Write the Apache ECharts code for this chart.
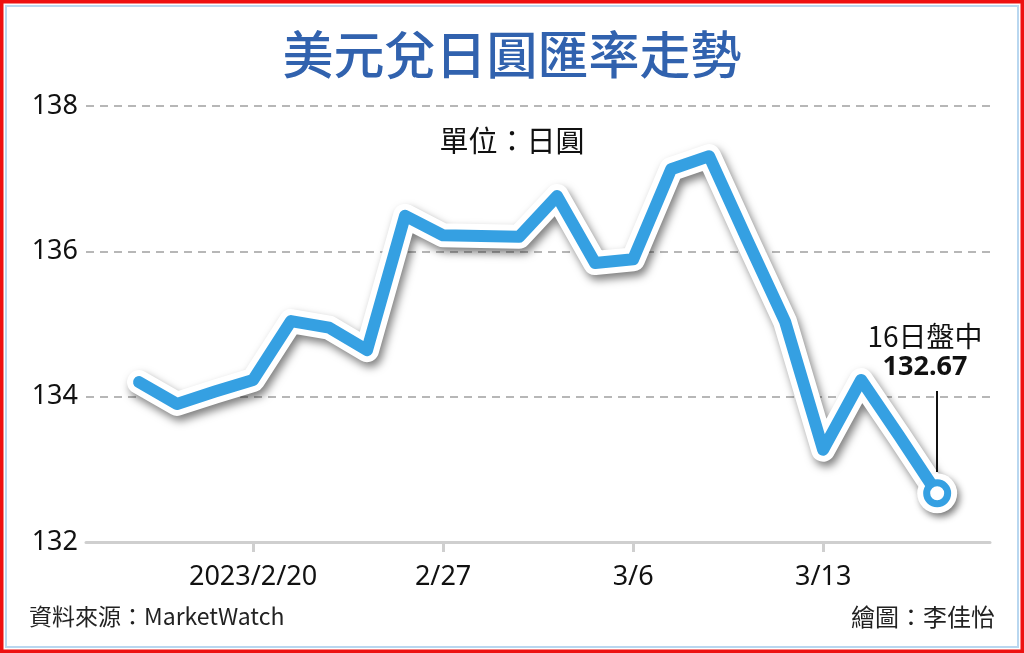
<!DOCTYPE html>
<html>
<head>
<meta charset="utf-8">
<style>
html,body{margin:0;padding:0;background:#fff;}
#chart{width:1024px;height:653px;}
</style>
<script src="https://cdn.jsdelivr.net/npm/echarts@6/dist/echarts.min.js"></script>
</head>
<body>
<div id="chart"></div>
<script>
// trading days (category labels)
const dates = ['2/15','2/16','2/17','2/20','2/21','2/22','2/23','2/24','2/27','2/28','3/1','3/2','3/3','3/6','3/7','3/8','3/9','3/10','3/13','3/14','3/15','3/16'];
// USD/JPY rate
const rates = [134.20,133.90,134.07,134.23,135.04,134.95,134.64,136.49,136.22,136.21,136.20,136.76,135.84,135.89,137.13,137.31,136.16,135.03,133.27,134.23,133.46,132.67];
// x tick labels shown
const tickDates = ['2/20','2/27','3/6','3/13'];
const tickText = {'2/20':'2023/2/20','2/27':'2/27','3/6':'3/6','3/13':'3/13'};
const yTicks = [132,134,136,138];

const BLUE = '#35a0e2';
const lastIdx = rates.length - 1;
const pts = rates.map((v,i)=>[i,v]);
const tickIdx = tickDates.map(d=>dates.indexOf(d));

const whiteData = pts.map((p,i)=> i===lastIdx ? {value:p, symbol:'circle', symbolSize:40, itemStyle:{color:'#fff', shadowColor:'rgba(0,0,0,0.45)', shadowBlur:7, shadowOffsetX:3, shadowOffsetY:4}} : {value:p});
const blueData = pts.map((p,i)=> i===lastIdx ? {value:p, symbol:'circle', symbolSize:21, itemStyle:{color:'#fff', borderColor:BLUE, borderWidth:7}} : {value:p});

const chart = echarts.init(document.getElementById('chart'));
const font = '"Noto Sans", "Noto Sans CJK TC", sans-serif';
chart.setOption({
  animation:false,
  backgroundColor:'#fff',
  title:{
    text:'美元兌日圓匯率走勢',
    left:'center', top:24,
    textStyle:{fontFamily:'"Noto Sans CJK TC", sans-serif', fontSize:51, fontWeight:500, color:'#3162ae'}
  },
  grid:{left:86, right:34, top:106, bottom:111, containLabel:false},
  xAxis:{
    type:'value',
    min:-1.395, max:22.39,
    axisLine:{show:true, lineStyle:{color:'#cfcfcf', width:3}},
    axisTick:{show:true, customValues:tickIdx, length:10, lineStyle:{color:'#cfcfcf', width:3}},
    axisLabel:{show:true, customValues:tickIdx, margin:22, fontFamily:font, fontSize:27, color:'#111',
      formatter:(v)=>tickText[dates[Math.round(v)]] || ''},
    splitLine:{show:false}
  },
  yAxis:{
    type:'value', min:132, max:138, interval:2,
    axisLine:{show:false}, axisTick:{show:false},
    axisLabel:{margin:8, fontFamily:font, fontSize:27, color:'#111'},
    splitLine:{show:true, lineStyle:{color:'#a0a0a0', type:[8,6], width:1.5}}
  },
  series:[
    {
      type:'line', data:whiteData, symbol:'none', z:3,
      lineStyle:{color:'#fff', width:24, join:'round', cap:'round',
        shadowColor:'rgba(0,0,0,0.5)', shadowBlur:8, shadowOffsetX:3, shadowOffsetY:5},
      silent:true
    },
    {
      type:'line', data:blueData, symbol:'none', z:4,
      lineStyle:{color:BLUE, width:12, join:'round', cap:'round'},
      silent:true
    }
  ],
  graphic:[
    {type:'rect', shape:{x:1.5, y:1.5, width:1021, height:650}, style:{fill:'none', stroke:'#ee1111', lineWidth:4}, z:100},
    {type:'rect', shape:{x:6, y:6, width:1012, height:641}, style:{fill:'none', stroke:'#b9d7f0', lineWidth:2}, z:100},
    {type:'text', left:'center', top:126, style:{text:'單位：日圓', fontFamily:'"Noto Sans CJK TC", sans-serif', fontSize:29, fill:'#111'}, z:50},
    {type:'text', x:925, y:322, style:{text:'16日盤中', textAlign:'center', fontFamily:'"Noto Sans CJK TC", sans-serif', fontSize:28, fill:'#111'}, z:50},
    {type:'text', x:925, y:354, style:{text:'132.67', textAlign:'center', fontFamily:font, fontSize:27, fontWeight:'bold', fill:'#111'}, z:50},
    {type:'line', shape:{x1:937, y1:391, x2:937, y2:472}, style:{stroke:'#111', lineWidth:2}, z:50},
    {type:'text', x:29, y:605, style:{text:'資料來源：MarketWatch', fontFamily:'"Noto Sans CJK TC", sans-serif', fontSize:23, fill:'#222'}, z:50},
    {type:'text', x:995, y:605, style:{text:'繪圖：李佳怡', textAlign:'right', fontFamily:'"Noto Sans CJK TC", sans-serif', fontSize:24, fill:'#222'}, z:50}
  ]
});
</script>
</body>
</html>
